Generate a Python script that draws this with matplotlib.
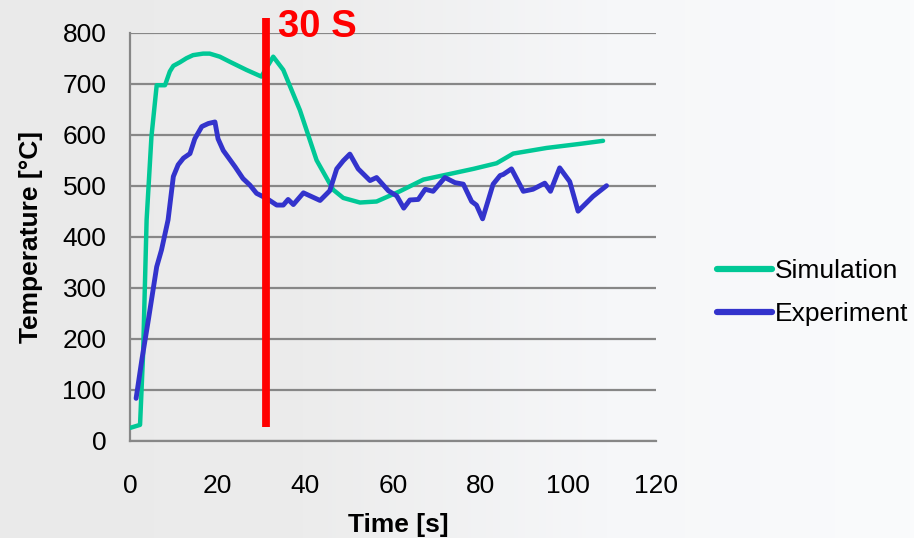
import numpy as np
import matplotlib
matplotlib.use("Agg")
import matplotlib.pyplot as plt
from matplotlib.colors import LinearSegmentedColormap

plt.rcParams['font.family'] = ['Liberation Sans', 'DejaVu Sans']

# ---- data ----
sim_t = [0, 2.3, 3.0, 3.8, 4.9, 6.1, 8.0, 9.1, 9.9, 11.4, 12.9, 14.4, 16.7, 18.2, 20.5,
         22.8, 26.6, 30, 32.7, 35, 38.8, 42.6, 46.4, 48.7, 52.5, 56.3, 61.6, 67, 73,
         78.4, 83.7, 87.5, 95.1, 102.7, 108]
sim_T = [25, 31, 171, 433, 596, 697, 697, 724, 735, 742, 750, 756, 759, 759, 753,
         743, 727, 714, 753, 727, 648, 550, 492, 476, 467, 469, 489, 512, 523,
         533, 544, 563, 574, 582, 588]

exp_t = [1.4, 2.7, 4.2, 6.1, 7.2, 8.7, 9.9, 11, 12.2, 13.7, 14.8, 16.4, 17.9, 19.4, 20.1,
         21.3, 24, 25.8, 27.4, 28.9, 31.2, 33.5, 35, 36.1, 37.3, 39.6, 43.4, 45.6, 47.2,
         48.7, 50.2, 52.1, 54.8, 56.3, 59, 60.9, 62.5, 63.9, 65.8, 67.4, 69.2, 71.9, 74.2,
         76.1, 78, 79.1, 80.5, 82.9, 84.5, 85.2, 87.1, 89.8, 92, 94.7, 96, 98.1, 100.4,
         102.3, 105.7, 108.8]
exp_T = [83, 158, 237, 341, 374, 433, 518, 541, 554, 563, 592, 616, 622, 625, 592,
         569, 537, 514, 501, 485, 475, 462, 462, 473, 463, 486, 471, 490, 533,
         549, 562, 533, 510, 516, 490, 480, 456, 472, 473, 493, 489, 516, 506,
         503, 469, 462, 435, 503, 520, 522, 533, 489, 493, 505, 489, 535, 508,
         450, 479, 500]

marker_t = 31
marker_range = [26, 829]
marker_label = "30 S"

x_ticks = [0, 20, 40, 60, 80, 100, 120]
y_ticks = [0, 100, 200, 300, 400, 500, 600, 700, 800]

fig = plt.figure(figsize=(9.14, 5.38), dpi=100)

# background gradient
bg = fig.add_axes([0, 0, 1, 1], zorder=-10)
cmap = LinearSegmentedColormap.from_list("bg", ["#eaeaea", "#ececec", "#f6f7f9", "#fafbfc"])
grad = np.tile(np.linspace(0, 1, 256), (2, 1))
bg.imshow(grad, aspect='auto', cmap=cmap, extent=[0, 1, 0, 1])
bg.axis('off')

ax = fig.add_axes([0.1422, 0.1809, 0.7173 - 0.1422, 0.9392 - 0.1809])
ax.patch.set_alpha(0)

ax.set_xlim(0, 120)
ax.set_ylim(0, 800)
ax.set_xticks(x_ticks)
ax.set_yticks(y_ticks)
ax.grid(axis='y', color='#878787', linewidth=1.6, zorder=0)
ax.set_axisbelow(True)
for s in ['top', 'right']:
    ax.spines[s].set_visible(False)
for s in ['left', 'bottom']:
    ax.spines[s].set_color('#878787')
    ax.spines[s].set_linewidth(1.6)
ax.tick_params(length=0, labelsize=19)
ax.tick_params(axis='x', pad=24)
ax.tick_params(axis='y', pad=17)

ax.plot(sim_t, sim_T, color='#00c896', lw=3.2, solid_joinstyle='round',
        solid_capstyle='round', label='Simulation', zorder=3)
ax.plot(exp_t, exp_T, color='#3333cc', lw=3.5, solid_joinstyle='round',
        solid_capstyle='round', label='Experiment', zorder=4)

ax.plot([marker_t, marker_t], marker_range, color='#ff0000', lw=5.6,
        solid_capstyle='butt', zorder=5, clip_on=False)
ax.text(marker_t + 2.8, 792, marker_label, color='#ff0000', fontsize=27.5,
        fontweight='bold', ha='left', va='baseline', clip_on=False)

ax.set_xlabel('Time [s]', fontsize=19, fontweight='bold')
ax.xaxis.set_label_coords(0.51, -0.206)
ax.xaxis.label.set_va('center')
ax.set_ylabel('Temperature [\u00b0C]', fontsize=19, fontweight='bold', labelpad=14)

leg = fig.legend(loc='center left', bbox_to_anchor=(0.7845, 0.456), frameon=False,
                 fontsize=19, handlelength=2.1, handletextpad=0.1, labelspacing=0.72,
                 borderpad=0, borderaxespad=0)
for line in leg.get_lines():
    line.set_linewidth(4.5)

fig.savefig('out.png', dpi=100)
